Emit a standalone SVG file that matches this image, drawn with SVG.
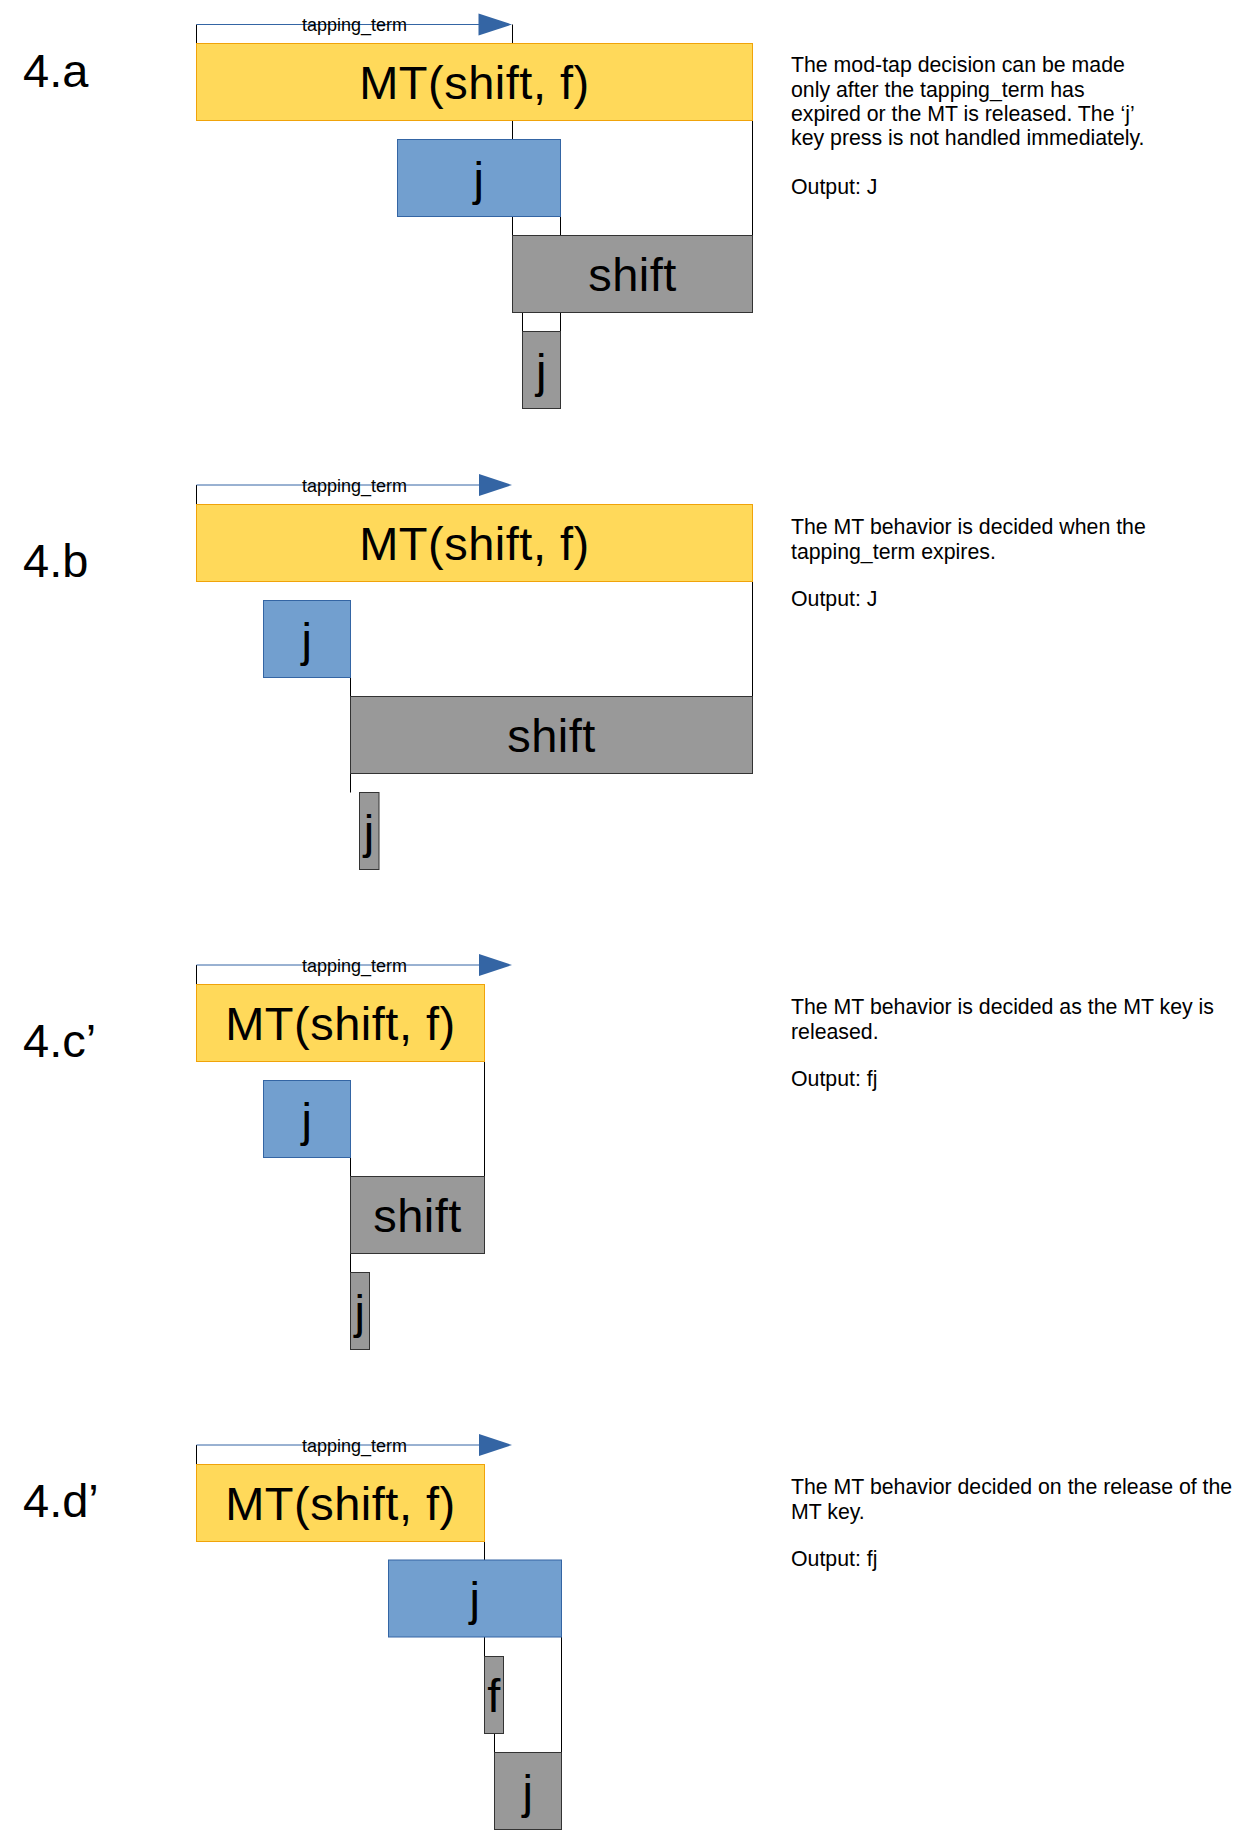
<svg xmlns="http://www.w3.org/2000/svg" width="1239" height="1832" viewBox="0 0 1239 1832">
<style>
text{font-family:"Liberation Sans",Arial,sans-serif;fill:#000}
.lab{font-size:47px}
.key{font-size:47px;letter-spacing:0.5px;text-anchor:middle}
.tt{font-size:18px;text-anchor:middle}
.desc{font-size:21.3px}
.mt{fill:#ffd95a;stroke:#f0a30a;stroke-width:1}
.blue{fill:#729fcf;stroke:#3465a4;stroke-width:1}
.gray{fill:#999999;stroke:#333333;stroke-width:1}
.ln{stroke:#000;stroke-width:1;fill:none}
.arr{stroke:#3465a4;stroke-width:1;fill:none}
.head{fill:#3465a4}
</style>
<rect width="1239" height="1832" fill="#fff"/>
<g id="connectors">
  <!-- 4.a -->
  <path class="ln" d="M196.5 24.5V43.5M512.5 24.5V236M752.5 121V236M560.5 217V236M560.5 312V332M522.5 312V332"/>
  <path class="arr" d="M196.5 24.5H479"/>
  <polygon class="head" points="478.5,13.5 512,24.5 478.5,35.5"/>
  <!-- 4.b -->
  <path class="ln" d="M196.5 485V504.5M752.5 581V696.5M350.5 677V792.5"/>
  <path class="arr" d="M196.5 485H479"/>
  <polygon class="head" points="479,474 512,485 479,496"/>
  <!-- 4.c' -->
  <path class="ln" d="M196.5 965V984.5M484.5 1061V1177M350.5 1157V1273"/>
  <path class="arr" d="M196.5 965H479"/>
  <polygon class="head" points="479,954 512,965 479,976"/>
  <!-- 4.d' -->
  <path class="ln" d="M196.5 1445V1464.5M484.5 1541V1657M561.5 1637V1752.5M494.5 1733V1752.5"/>
  <path class="arr" d="M196.5 1445H479"/>
  <polygon class="head" points="479,1434 512,1445 479,1456"/>
</g>
<g id="labels">
  <text class="tt" x="354.5" y="30.5">tapping_term</text>
  <text class="tt" x="354.5" y="491.5">tapping_term</text>
  <text class="tt" x="354.5" y="971.5">tapping_term</text>
  <text class="tt" x="354.5" y="1451.5">tapping_term</text>
  <text class="lab" x="23" y="87.3">4.a</text>
  <text class="lab" x="23" y="577.3">4.b</text>
  <text class="lab" x="23" y="1057.3">4.c’</text>
  <text class="lab" x="23" y="1517.3">4.d’</text>
</g>
<!-- 4.a nodes -->
<g id="a-mt"><rect class="mt" x="196.5" y="43.5" width="556" height="77"/><text class="key" x="474.5" y="99">MT(shift, f)</text></g>
<g id="a-j"><rect class="blue" x="397.5" y="139.5" width="163" height="77"/><text class="key" x="479" y="194.5">j</text></g>
<g id="a-shift"><rect class="gray" x="512.5" y="235.5" width="240" height="77"/><text class="key" x="632.5" y="290.5">shift</text></g>
<g id="a-j2"><rect class="gray" x="522.5" y="331.5" width="38" height="77"/><text class="key" x="541.5" y="386.5">j</text></g>
<g id="a-desc"><text class="desc"><tspan x="791" y="72.3">The mod-tap decision can be made</tspan><tspan x="791" y="96.6">only after the tapping_term has</tspan><tspan x="791" y="120.9">expired or the MT is released. The ‘j’</tspan><tspan x="791" y="145.2">key press is not handled immediately.</tspan><tspan x="791" y="193.5">Output: J</tspan></text></g>
<!-- 4.b nodes -->
<g id="b-mt"><rect class="mt" x="196.5" y="504.5" width="556" height="77"/><text class="key" x="474.5" y="559.5">MT(shift, f)</text></g>
<g id="b-j"><rect class="blue" x="263.5" y="600.5" width="87" height="77"/><text class="key" x="307" y="655.5">j</text></g>
<g id="b-shift"><rect class="gray" x="350.5" y="696.5" width="402" height="77"/><text class="key" x="551.5" y="751.5">shift</text></g>
<g id="b-j2"><rect class="gray" x="359.5" y="792.5" width="19.5" height="77"/><text class="key" x="369.25" y="847.5">j</text></g>
<g id="b-desc"><text class="desc"><tspan x="791" y="534.3">The MT behavior is decided when the</tspan><tspan x="791" y="558.6">tapping_term expires.</tspan><tspan x="791" y="605.7">Output: J</tspan></text></g>
<!-- 4.c' nodes -->
<g id="c-mt"><rect class="mt" x="196.5" y="984.5" width="288" height="77"/><text class="key" x="340.5" y="1039.5">MT(shift, f)</text></g>
<g id="c-j"><rect class="blue" x="263.5" y="1080.5" width="87" height="77"/><text class="key" x="307" y="1135.5">j</text></g>
<g id="c-shift"><rect class="gray" x="350.5" y="1176.5" width="134" height="77"/><text class="key" x="417.5" y="1231.5">shift</text></g>
<g id="c-j2"><rect class="gray" x="350.5" y="1272.5" width="19" height="77"/><text class="key" x="360" y="1327.5">j</text></g>
<g id="c-desc"><text class="desc"><tspan x="791" y="1014.3">The MT behavior is decided as the MT key is</tspan><tspan x="791" y="1038.6">released.</tspan><tspan x="791" y="1085.7">Output: fj</tspan></text></g>
<!-- 4.d' nodes -->
<g id="d-mt"><rect class="mt" x="196.5" y="1464.5" width="288" height="77"/><text class="key" x="340.5" y="1519.5">MT(shift, f)</text></g>
<g id="d-j"><rect class="blue" x="388.5" y="1560" width="173" height="77"/><text class="key" x="475" y="1615">j</text></g>
<g id="d-f"><rect class="gray" x="484.5" y="1656.5" width="19" height="77"/><text class="key" x="494" y="1711.5">f</text></g>
<g id="d-j2"><rect class="gray" x="494.5" y="1752.5" width="67" height="77"/><text class="key" x="528" y="1807.5">j</text></g>
<g id="d-desc"><text class="desc"><tspan x="791" y="1494.3">The MT behavior decided on the release of the</tspan><tspan x="791" y="1518.6">MT key.</tspan><tspan x="791" y="1565.7">Output: fj</tspan></text></g>
</svg>
